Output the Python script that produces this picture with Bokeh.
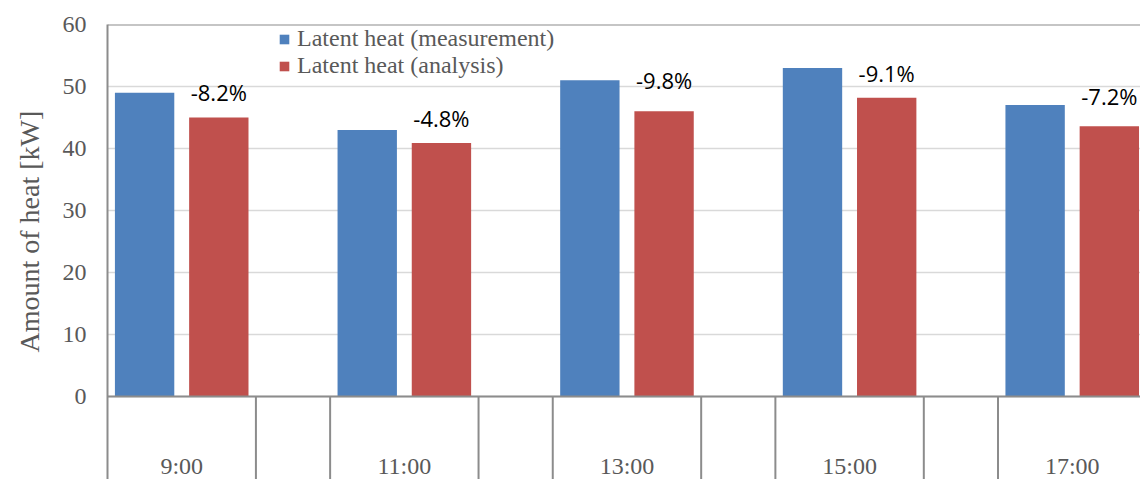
from bokeh.plotting import figure
from bokeh.models import ColumnDataSource, FixedTicker, Span, Legend, LegendItem, Range1d, Title
from bokeh.core.properties import value
from bokeh.embed import file_html
from bokeh.resources import INLINE

# Latent heat per time of day [kW]
times = ["9:00", "11:00", "13:00", "15:00", "17:00"]
measured = [49.0, 43.0, 51.0, 53.0, 47.0]
analysis = [45.0, 40.9, 46.0, 48.2, 43.6]
diff_labels = ["-8.2%", "-4.8%", "-9.8%", "-9.1%", "-7.2%"]
y_ticks = [0, 10, 20, 30, 40, 50, 60]

# layout: each time gets two slots (measurement, analysis) followed by an empty slot
SLOT = 3
n = len(times)
blue_x = [SLOT * i for i in range(n)]
red_x = [SLOT * i + 1 for i in range(n)]
center_x = [SLOT * i + 0.5 for i in range(n)]
dividers = [SLOT * i + d for i in range(n) for d in (1.5, 2.5)]

# pixel lift of each difference label above its analysis bar
label_lift = [25, 25, 31, 25, 30]

Y_LOW = -13.4
AXIS_GRAY = "#8C8C8C"
TEXT_GRAY = "#595959"
SERIF = "Liberation Serif"

p = figure(width=1140, height=479,
           x_range=Range1d(-0.5, 13.42), y_range=Range1d(Y_LOW, 60),
           x_axis_location=None, output_backend="svg", toolbar_location=None,
           min_border_left=107, min_border_top=24, min_border_right=0, min_border_bottom=0)
p.outline_line_color = None
p.background_fill_color = "white"
p.xgrid.visible = False
p.ygrid.ticker = FixedTicker(ticks=y_ticks)
p.ygrid.grid_line_color = "#D9D9D9"
p.ygrid.grid_line_width = 1.5

yax = p.yaxis[0]
yax.ticker = FixedTicker(ticks=y_ticks)
yax.axis_line_color = AXIS_GRAY
yax.axis_line_width = 2
yax.major_tick_line_color = None
yax.minor_tick_line_color = None
yax.major_tick_out = 0
yax.major_tick_in = 0
yax.major_label_standoff = 21
yax.major_label_text_font = SERIF
yax.major_label_text_font_size = "24px"
yax.major_label_text_color = TEXT_GRAY

# vertical axis title, starting a fixed distance above the frame's bottom
p.add_layout(Title(text="Amount of heat [kW]", align="left", offset=127,
                   vertical_align="top", standoff=26, text_line_height=0.5,
                   text_font=SERIF, text_font_size="28px", text_font_style="normal",
                   text_color=TEXT_GRAY), "left")

# zero line and top border of the plot area
p.add_layout(Span(location=0, dimension="width", line_color=AXIS_GRAY, line_width=2))
p.add_layout(Span(location=60, dimension="width", line_color=AXIS_GRAY, line_width=2))

# separators in the category band
p.segment(x0=dividers, y0=[0] * len(dividers), x1=dividers, y1=[Y_LOW] * len(dividers),
          line_color=AXIS_GRAY, line_width=2)

rb = p.vbar(x=blue_x, top=measured, bottom=0, width=0.8,
            fill_color="#4F81BD", line_color=None)
rr = p.vbar(x=red_x, top=analysis, bottom=0, width=0.8,
            fill_color="#C0504D", line_color=None)

src = ColumnDataSource(dict(x=red_x, y=analysis, text=diff_labels,
                            lift=[-v for v in label_lift]))
p.text(x="x", y="y", text="text", y_offset="lift", source=src,
       text_align="center", text_baseline="alphabetic",
       text_font=value("Open Sans"), text_font_size="22px", text_color="black")

p.text(x=center_x, y=[Y_LOW] * n, text=times, y_offset=-14,
       text_align="center", text_baseline="alphabetic",
       text_font=value(SERIF), text_font_size="24px", text_color=TEXT_GRAY)

legend = Legend(items=[LegendItem(label="Latent heat (measurement)", renderers=[rb]),
                       LegendItem(label="Latent heat (analysis)", renderers=[rr])],
                location=(171, 400), orientation="vertical",
                background_fill_alpha=0, border_line_color=None,
                padding=0, margin=0, spacing=0,
                glyph_width=12, glyph_height=12, label_standoff=7,
                label_text_font=SERIF, label_text_font_size="24px",
                label_text_color=TEXT_GRAY)
p.add_layout(legend)

open("out.html", "w").write(file_html(p, INLINE))
